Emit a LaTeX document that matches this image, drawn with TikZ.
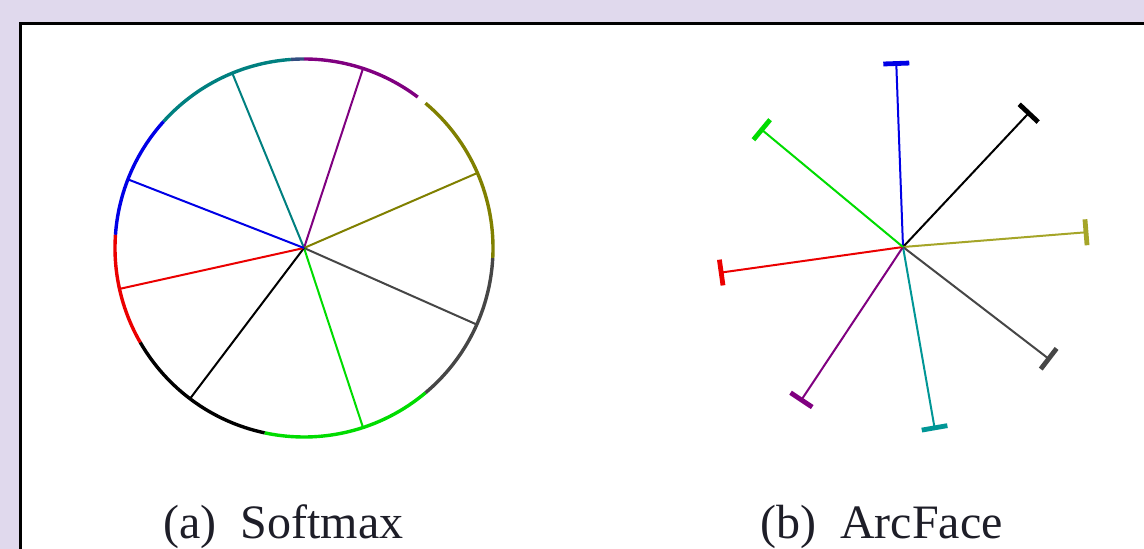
\documentclass[tikz,border=0pt]{standalone}
\usepackage{fontspec}
\setmainfont{Liberation Serif}
\usetikzlibrary{arrows.meta,calc}
\definecolor{lav}{RGB}{224,217,237}
\definecolor{cteal}{RGB}{0,128,128}
\definecolor{cteal2}{RGB}{0,150,150}
\definecolor{cpurple}{RGB}{128,0,128}
\definecolor{colive}{RGB}{128,128,0}
\definecolor{colive2}{RGB}{165,165,40}
\definecolor{cgray}{RGB}{70,70,70}
\definecolor{cgreen}{RGB}{0,220,0}
\definecolor{cred}{RGB}{235,0,0}
\definecolor{cblue}{RGB}{0,0,230}
\definecolor{ctext}{RGB}{30,30,40}
\tikzset{
  spoke/.style={line width=1pt},
  rim/.style={line width=1.7pt},
  capped/.style={line width=1pt,-{Bar[width=13pt,line width=2.4pt]}},
  caption/.style={anchor=base,text=ctext,font=\fontsize{24}{28}\selectfont,inner sep=0pt}
}
\begin{document}
\begin{tikzpicture}[x=0.5pt,y=-0.5pt]
\useasboundingbox (0,0) rectangle (1144,549);
\fill[lav] (0,0) rectangle (1144,549);
\fill[white] (20.5,24) rectangle (1144,549);
\draw[line width=1.5pt] (20.5,549) -- (20.5,24) -- (1144,24);
% ---- Softmax ----
\coordinate (sc) at (304,248);
\def\R{189}
% rim arcs (angles negated because y axis points down)
\draw[rim,cteal]   ($(sc)+(-94:\R)$)  arc[start angle=-94, end angle=-138, radius=\R];
\draw[rim,cblue]   ($(sc)+(-138:\R)$) arc[start angle=-138,end angle=-176, radius=\R];
\draw[rim,cred]    ($(sc)+(-176:\R)$) arc[start angle=-176,end angle=-210, radius=\R];
\draw[rim,black]   ($(sc)+(-210:\R)$) arc[start angle=-210,end angle=-258, radius=\R];
\draw[rim,cgreen]  ($(sc)+(-258:\R)$) arc[start angle=-258,end angle=-310, radius=\R];
\draw[rim,cgray]   ($(sc)+(-310:\R)$) arc[start angle=-310,end angle=-357, radius=\R];
\draw[rim,colive]  ($(sc)+(3:\R)$)    arc[start angle=3,   end angle=-50,  radius=\R];
\draw[rim,cpurple] ($(sc)+(-53:\R)$)  arc[start angle=-53, end angle=-90,  radius=\R];
\draw[rim,cteal!60!cpurple] ($(sc)+(-90:\R)$) arc[start angle=-90, end angle=-94, radius=\R];
% spokes
\coordinate (s1) at ($(sc)+(-112.3:\R)$);
\coordinate (s2) at ($(sc)+(-71.8:\R)$);
\coordinate (s3) at ($(sc)+(-23.4:\R)$);
\coordinate (s4) at ($(sc)+(23.9:\R)$);
\coordinate (s5) at ($(sc)+(71.8:\R)$);
\coordinate (s6) at ($(sc)+(127.1:\R)$);
\coordinate (s7) at ($(sc)+(167.5:\R)$);
\coordinate (s8) at ($(sc)+(-158.7:\R)$);
\draw[spoke,cteal]   (sc) -- (s1);
\draw[spoke,cpurple] (sc) -- (s2);
\draw[spoke,colive]  (sc) -- (s3);
\draw[spoke,cgray]   (sc) -- (s4);
\draw[spoke,cgreen]  (sc) -- (s5);
\draw[spoke,black]   (sc) -- (s6);
\draw[spoke,cred]    (sc) -- (s7);
\draw[spoke,cblue]   (sc) -- (s8);
% ---- ArcFace ----
\coordinate (ac) at (903,247);
\def\L{186}
\coordinate (a1) at ($(ac)+(-92.1:\L)$);
\coordinate (a2) at ($(ac)+(-46.8:\L)$);
\coordinate (a3) at ($(ac)+(-4.6:\L)$);
\coordinate (a4) at ($(ac)+(37.5:\L)$);
\coordinate (a5) at ($(ac)+(80.1:\L)$);
\coordinate (a6) at ($(ac)+(123.6:\L)$);
\coordinate (a7) at ($(ac)+(172:\L)$);
\coordinate (a8) at ($(ac)+(-140.3:\L)$);
\draw[capped,cblue]   (ac) -- (a1);
\draw[capped,black]   (ac) -- (a2);
\draw[capped,colive2] (ac) -- (a3);
\draw[capped,cgray]   (ac) -- (a4);
\draw[capped,cteal2]  (ac) -- (a5);
\draw[capped,cpurple] (ac) -- (a6);
\draw[capped,cred]    (ac) -- (a7);
\draw[capped,cgreen]  (ac) -- (a8);
% captions
\node[caption] (capa) at (283.5,538) {(a)\hspace{0.5em}Softmax};
\node[caption] (capb) at (881.5,538) {(b)\hspace{0.5em}ArcFace};
\end{tikzpicture}
\end{document}
